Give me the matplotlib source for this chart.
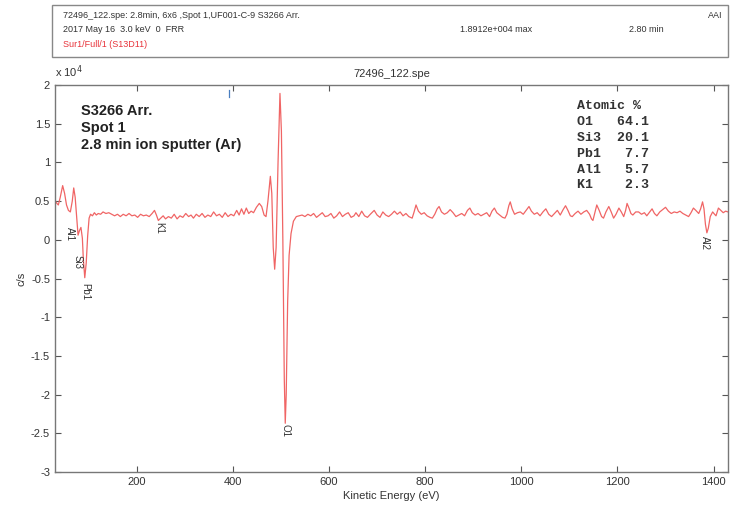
import matplotlib
matplotlib.use("Agg")
import matplotlib.pyplot as plt
from matplotlib.patches import Rectangle

plt.rcParams['font.family'] = ['Liberation Sans', 'DejaVu Sans']

# spectrum (counts in units of 1e4 c/s)
energy = [30, 34, 37, 41, 46, 50, 54, 58, 62, 66, 69, 72, 75, 78, 81, 84, 87, 89, 92, 95,
          98, 101, 104, 108, 112, 116, 120, 125, 130, 136, 142, 148, 154, 160, 166, 172, 178,
          184, 190, 196, 202, 208, 214, 220, 226, 232, 237, 241, 245, 250, 255, 260, 266, 272,
          278, 284, 290, 296, 302, 308, 313, 318, 324, 330, 336, 342, 348, 354, 360, 366, 372,
          378, 384, 390, 396, 402, 408, 413, 418, 423, 428, 433, 438, 443, 449, 455, 460, 465,
          469, 473, 478, 481, 484, 487, 490, 494, 498, 501, 504, 507, 509, 511, 514, 517, 521,
          526, 532, 538, 544, 550, 556, 562, 568, 574, 580, 586, 592, 598, 604, 610, 616, 622,
          628, 634, 640, 646, 652, 656, 662, 668, 674, 680, 686, 694, 700, 706, 712, 718, 724,
          730, 736, 742, 748, 754, 760, 766, 773, 777, 781, 786, 792, 798, 804, 810, 815, 820,
          825, 829, 834, 840, 846, 852, 858, 864, 870, 876, 882, 888, 893, 898, 904, 910, 916,
          922, 928, 934, 939, 944, 949, 955, 961, 966, 970, 974, 977, 981, 986, 992, 998, 1004,
          1010, 1016, 1021, 1027, 1033, 1039, 1045, 1051, 1057, 1063, 1069, 1075, 1081, 1087,
          1092, 1097, 1102, 1106, 1112, 1118, 1124, 1130, 1136, 1142, 1146, 1149, 1153, 1157,
          1162, 1167, 1171, 1176, 1182, 1187, 1192, 1197, 1203, 1208, 1213, 1217, 1220, 1224,
          1228, 1232, 1238, 1244, 1250, 1256, 1261, 1266, 1272, 1277, 1282, 1288, 1294, 1300,
          1306, 1312, 1318, 1324, 1330, 1336, 1342, 1348, 1353, 1358, 1363, 1369, 1373, 1377,
          1380, 1383, 1386, 1389, 1393, 1398, 1402, 1405, 1410, 1415, 1420, 1425, 1430]
counts = [0.51, 0.47, 0.45, 0.55, 0.70, 0.60, 0.45, 0.38, 0.36, 0.50, 0.67, 0.55, 0.30, 0.06,
          0.12, 0.16, 0.02, -0.25, -0.49, -0.30, 0.05, 0.28, 0.33, 0.31, 0.35, 0.32, 0.34, 0.33,
          0.36, 0.34, 0.35, 0.33, 0.31, 0.33, 0.30, 0.33, 0.31, 0.34, 0.31, 0.32, 0.29, 0.33,
          0.31, 0.32, 0.30, 0.34, 0.38, 0.32, 0.25, 0.28, 0.31, 0.27, 0.30, 0.28, 0.33, 0.27,
          0.31, 0.29, 0.34, 0.30, 0.32, 0.28, 0.33, 0.30, 0.34, 0.29, 0.32, 0.30, 0.36, 0.31,
          0.33, 0.29, 0.35, 0.30, 0.33, 0.31, 0.38, 0.32, 0.40, 0.33, 0.41, 0.34, 0.37, 0.35,
          0.42, 0.47, 0.43, 0.32, 0.30, 0.50, 0.82, 0.60, -0.10, -0.38, -0.10, 1.00, 1.891,
          1.40, 0.00, -1.80, -2.37, -2.00, -0.80, -0.20, 0.08, 0.24, 0.30, 0.31, 0.32, 0.30,
          0.33, 0.31, 0.34, 0.29, 0.32, 0.35, 0.30, 0.31, 0.34, 0.28, 0.31, 0.36, 0.30, 0.33,
          0.35, 0.29, 0.31, 0.35, 0.30, 0.37, 0.31, 0.29, 0.33, 0.38, 0.32, 0.29, 0.36, 0.32,
          0.30, 0.33, 0.37, 0.33, 0.36, 0.31, 0.34, 0.30, 0.28, 0.36, 0.45, 0.37, 0.33, 0.35,
          0.31, 0.29, 0.28, 0.33, 0.40, 0.43, 0.36, 0.33, 0.35, 0.39, 0.35, 0.30, 0.32, 0.34,
          0.31, 0.38, 0.41, 0.35, 0.32, 0.34, 0.31, 0.33, 0.35, 0.30, 0.37, 0.41, 0.35, 0.32,
          0.29, 0.28, 0.33, 0.44, 0.49, 0.40, 0.33, 0.35, 0.36, 0.33, 0.38, 0.43, 0.37, 0.33,
          0.35, 0.31, 0.36, 0.40, 0.33, 0.30, 0.34, 0.38, 0.32, 0.39, 0.44, 0.38, 0.31, 0.30,
          0.34, 0.37, 0.33, 0.36, 0.38, 0.33, 0.27, 0.25, 0.35, 0.45, 0.38, 0.30, 0.28, 0.36,
          0.43, 0.36, 0.28, 0.33, 0.41, 0.36, 0.30, 0.38, 0.47, 0.41, 0.34, 0.32, 0.36, 0.36,
          0.33, 0.35, 0.31, 0.35, 0.40, 0.34, 0.31, 0.36, 0.39, 0.42, 0.37, 0.34, 0.36, 0.35,
          0.37, 0.34, 0.32, 0.30, 0.35, 0.41, 0.38, 0.34, 0.40, 0.49, 0.40, 0.20, 0.09, 0.15,
          0.30, 0.36, 0.33, 0.31, 0.41, 0.38, 0.35, 0.37, 0.36]

# peak labels: (text, energy, y)
peak_labels = [("Al1", 61, 0.075), ("Si3", 76, -0.29), ("Pb1", 92, -0.67),
               ("K1", 246, 0.15), ("O1", 510, -2.47), ("Al2", 1383, -0.04)]

elements = ["O1", "Si3", "Pb1", "Al1", "K1"]
atomic_pct = [64.1, 20.1, 7.7, 5.7, 2.3]

xticks = [200, 400, 600, 800, 1000, 1200, 1400]
yticks = [2, 1.5, 1, 0.5, 0, -0.5, -1, -1.5, -2, -2.5, -3]
ytick_labels = ["2", "1.5", "1", "0.5", "0", "-0.5", "-1", "-1.5", "-2", "-2.5", "-3"]

fig = plt.figure(figsize=(7.3, 5.05), dpi=100)
ax = fig.add_axes([0.0753, 0.0653, 0.922, 0.7664])

ax.plot(energy, counts, color="#f06565", lw=0.9)
ax.plot([391, 391], [1.84, 1.93], color="#4a7fc0", lw=0.9)

for lab, e, y in peak_labels:
    ax.text(e, y, lab, rotation=270, ha="center", va="center", fontsize=7, color="#333333")

ax.set_xlim(30, 1430)
ax.set_ylim(-3, 2)
ax.set_xticks(xticks)
ax.set_yticks(yticks)
ax.set_yticklabels(ytick_labels)
ax.tick_params(direction="in", top=True, right=True, length=4, width=0.8,
               labelsize=8, colors="#555555", labelcolor="#333333")
for sp in ax.spines.values():
    sp.set_color("#777777")
    sp.set_linewidth(1.0)

ax.set_title("72496_122.spe", fontsize=8, color="#333333", pad=6)
ax.set_xlabel("Kinetic Energy (eV)", fontsize=8, color="#333333", labelpad=3)
ax.set_ylabel("c/s", fontsize=8, color="#333333", labelpad=3)
fig.text(0.0753, 0.848, r"x 10$^4$", fontsize=8, color="#333333", ha="left")

ax.text(0.038, 0.95, "S3266 Arr.\nSpot 1\n2.8 min ion sputter (Ar)", transform=ax.transAxes,
        fontsize=10.5, fontweight="bold", color="#222222", va="top", ha="left", linespacing=1.25)

rows = ["Atomic %"] + [f"{el:<4}{p:>5.1f}" for el, p in zip(elements, atomic_pct)]
ax.text(0.776, 0.96, "\n".join(rows), transform=ax.transAxes, family="Liberation Mono",
        fontsize=9.5, fontweight="bold", color="#333333", va="top", ha="left", linespacing=1.42)

# header box
fig.patches.append(Rectangle((0.0712, 0.887), 0.926, 0.103, transform=fig.transFigure,
                             fill=False, edgecolor="#888888", lw=1.0))
fig.text(0.086, 0.970, "72496_122.spe: 2.8min, 6x6 ,Spot 1,UF001-C-9 S3266 Arr.",
         fontsize=6.5, color="#333333", va="center")
fig.text(0.990, 0.970, "AAI", fontsize=6.5, color="#333333", va="center", ha="right")
fig.text(0.086, 0.941, "2017 May 16  3.0 keV  0  FRR", fontsize=6.5, color="#333333", va="center")
fig.text(0.630, 0.941, "1.8912e+004 max", fontsize=6.5, color="#333333", va="center")
fig.text(0.862, 0.941, "2.80 min", fontsize=6.5, color="#333333", va="center")
fig.text(0.086, 0.911, "Sur1/Full/1 (S13D11)", fontsize=6.5, color="#e8333a", va="center")

fig.savefig("out.png", dpi=100)
